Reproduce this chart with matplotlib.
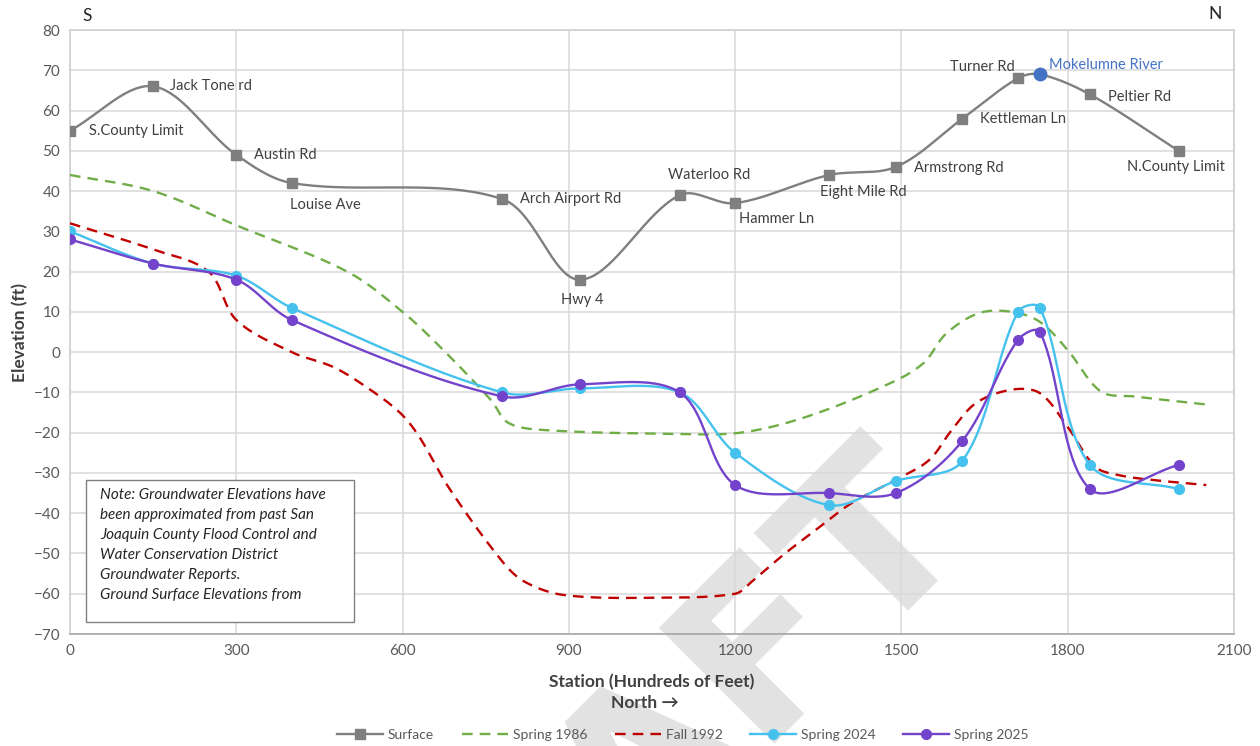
import matplotlib
matplotlib.use("Agg")
import matplotlib.pyplot as plt
import numpy as np
from matplotlib.lines import Line2D
from matplotlib.patches import Rectangle

plt.rcParams["font.family"] = ["Lato", "DejaVu Sans"]

# stations (hundreds of feet) shared by the surface and recent groundwater surveys
stations = [0, 150, 300, 400, 780, 920, 1100, 1200, 1370, 1490, 1610, 1710, 1750, 1840, 2000]
surface = [55, 66, 49, 42, 38, 18, 39, 37, 44, 46, 58, 68, 69, 64, 50]
surface_names = ["S.County Limit", "Jack Tone rd", "Austin Rd", "Louise Ave", "Arch Airport Rd",
                 "Hwy 4", "Waterloo Rd", "Hammer Ln", "Eight Mile Rd", "Armstrong Rd",
                 "Kettleman Ln", "Turner Rd", "Mokelumne River", "Peltier Rd", "N.County Limit"]
spring_2024 = [30, 22, 19, 11, -10, -9, -10, -25, -38, -32, -27, 10, 11, -28, -34]
spring_2025 = [28, 22, 18, 8, -11, -8, -10, -33, -35, -35, -22, 3, 5, -34, -28]

# historic contours (no markers)
spring_1986_x = [0, 150, 300, 500, 600, 670, 760, 790, 850, 1090, 1210, 1330, 1480, 1540,
                 1580, 1640, 1700, 1750, 1800, 1860, 1920, 2050]
spring_1986_y = [44, 40, 31.5, 20, 10, 1, -12, -17.5, -19.3, -20.3, -20, -16, -7.7, -2.7,
                 4.5, 9.7, 10, 7.5, 0.5, -9.8, -11, -13]
fall_1992_x = [0, 150, 250, 300, 400, 475, 535, 595, 630, 685, 780, 820, 890, 1050, 1200,
               1230, 1290, 1350, 1410, 1490, 1550, 1590, 1635, 1700, 1750, 1800, 1850,
               1890, 1950, 2050]
fall_1992_y = [32, 25.5, 20, 8, 0, -3.7, -8.7, -15, -21, -34, -52, -57, -60.3, -61, -60,
               -57, -50, -43.7, -37.5, -31.7, -26.8, -19.5, -12.6, -9.3, -10.2, -18.6, -28.5,
               -30.5, -31.7, -33]

NOTE = ("Note: Groundwater Elevations have\n"
        "been approximated from past San\n"
        "Joaquin County Flood Control and\n"
        "Water Conservation District\n"
        "Groundwater Reports.\n"
        "Ground Surface Elevations from")

# label placement: (dx, dy) in points, horizontal alignment
LABEL_POS = {
    "S.County Limit": (13.5, 0, "left"),
    "Jack Tone rd": (12, 0, "left"),
    "Austin Rd": (13, 0, "left"),
    "Louise Ave": (-1.5, -15.8, "left"),
    "Arch Airport Rd": (13, 0, "left"),
    "Hwy 4": (1.5, -14.4, "center"),
    "Waterloo Rd": (21, 14.4, "center"),
    "Hammer Ln": (3, -11.5, "left"),
    "Eight Mile Rd": (-6.5, -12.2, "left"),
    "Armstrong Rd": (13, -0.5, "left"),
    "Kettleman Ln": (13, 0, "left"),
    "Turner Rd": (-2, 8, "right"),
    "Mokelumne River": (6.5, 6.5, "left"),
    "Peltier Rd": (13, -1.5, "left"),
    "N.County Limit": (-2, -11.5, "center"),
}

GRAY = "#7F7F7F"
GREEN = "#70AD47"
RED = "#C00000"
CYAN = "#45C1EE"
PURPLE = "#7443CC"
RIVER = "#4472C4"
TEXT = "#404040"
TICK = "#595959"

# rough screen scale (px per data unit) so the smoothing behaves like a spreadsheet curve
SX, SY = 1164 / 2100, 604 / 150


def smooth(xs, ys, n=40, tension=1 / 3):
    """Bezier curve through every point, tangents weighted by neighbouring segment lengths."""
    pts = np.column_stack([np.asarray(xs, float) * SX, np.asarray(ys, float) * SY])
    out = []
    t = np.linspace(0, 1, n)[:, None]
    for i in range(len(pts) - 1):
        p0 = pts[i - 1] if i > 0 else pts[i]
        p1, p2 = pts[i], pts[i + 1]
        p3 = pts[i + 2] if i + 2 < len(pts) else pts[i + 1]
        d01 = np.hypot(*(p1 - p0))
        d12 = np.hypot(*(p2 - p1))
        d23 = np.hypot(*(p3 - p2))
        c1 = p1 + tension * d12 / max(d01 + d12, 1e-9) * (p2 - p0)
        c2 = p2 - tension * d12 / max(d12 + d23, 1e-9) * (p3 - p1)
        seg = (1 - t) ** 3 * p1 + 3 * (1 - t) ** 2 * t * c1 + 3 * (1 - t) * t ** 2 * c2 + t ** 3 * p2
        out.append(seg if i == 0 else seg[1:])
    curve = np.vstack(out)
    return curve[:, 0] / SX, curve[:, 1] / SY


fig = plt.figure(figsize=(12.6, 7.46), dpi=100)
ax = fig.add_axes([70 / 1260, 1 - 634 / 746, 1164 / 1260, 604 / 746])

ax.set_xlim(0, 2100)
ax.set_ylim(-70, 80)
ax.set_xticks(range(0, 2101, 300))
ax.set_yticks(range(-70, 81, 10))
ax.set_axisbelow(True)
ax.grid(True, color="#D9D9D9", linewidth=1.1)
ax.tick_params(length=0, labelsize=11, labelcolor=TICK, pad=7)
for name, spine in ax.spines.items():
    spine.set_color("#D0D0D0")
    spine.set_linewidth(1.2)
ax.spines["bottom"].set_color("#A6A6A6")

# watermark, kept under the axis so tick labels stay readable
ax.text(972 / 1260, 1 - 526 / 746, "DRAFT", transform=fig.transFigure, fontsize=162,
        fontweight="bold", family="DejaVu Sans", color="#E2E2E2", rotation=45,
        rotation_mode="anchor", ha="right", va="baseline", clip_on=False, zorder=0.3)

x, y = smooth(spring_1986_x, spring_1986_y)
ax.plot(x, y, color=GREEN, lw=1.7, dashes=(4.5, 3), zorder=3)
x, y = smooth(fall_1992_x, fall_1992_y)
ax.plot(x, y, color=RED, lw=1.7, dashes=(4.5, 3), zorder=3)

x, y = smooth(stations, spring_2024)
ax.plot(x, y, color=CYAN, lw=1.7, zorder=4)
ax.plot(stations, spring_2024, "o", color=CYAN, ms=7, zorder=4)
x, y = smooth(stations, spring_2025)
ax.plot(x, y, color=PURPLE, lw=1.7, zorder=4)
ax.plot(stations, spring_2025, "o", color=PURPLE, ms=7, zorder=4)

x, y = smooth(stations, surface)
ax.plot(x, y, color=GRAY, lw=1.7, zorder=4)
river = surface_names.index("Mokelumne River")
sq_x = [s for i, s in enumerate(stations) if i != river]
sq_y = [v for i, v in enumerate(surface) if i != river]
ax.plot(sq_x, sq_y, "s", color=GRAY, ms=6.5, zorder=5)
ax.plot(stations[river], surface[river], "o", color=RIVER, ms=9, zorder=5)

for st, elev, name in zip(stations, surface, surface_names):
    dx, dy, ha = LABEL_POS[name]
    ax.annotate(name, (st, elev), xytext=(dx, dy), textcoords="offset points",
                ha=ha, va="center", fontsize=10.5,
                color=RIVER if name == "Mokelumne River" else TEXT, zorder=6)

# note box
ax.add_patch(Rectangle((16 / 1164, 12 / 604), 268 / 1164, 142 / 604, transform=ax.transAxes,
                       facecolor="white", edgecolor="#808080", lw=1.0, zorder=7))
ax.text(30 / 1164, 1 - 458 / 604, NOTE, transform=ax.transAxes, ha="left", va="top",
        fontsize=11, style="italic", color="#262626", linespacing=1.55, zorder=8)

fig.text(652 / 1260, 1 - 682 / 746, "Station (Hundreds of Feet)", ha="center", va="center",
         fontsize=12.5, fontweight="bold", color=TEXT)
fig.text(645 / 1260, 1 - 703 / 746, "North \u2192", ha="center", va="center",
         fontsize=12.5, fontweight="bold", color=TEXT)
fig.text(20 / 1260, 1 - 332 / 746, "Elevation (ft)", ha="center", va="center", rotation=90,
         fontsize=12.5, fontweight="bold", color=TEXT)
fig.text(87 / 1260, 1 - 16 / 746, "S", ha="center", va="center", fontsize=12.5, color="#262626")
fig.text(1215 / 1260, 1 - 14 / 746, "N", ha="center", va="center", fontsize=12.5, color="#262626")

handles = [
    Line2D([], [], color=GRAY, lw=1.7, marker="s", ms=6.5),
    Line2D([], [], color=GREEN, lw=1.7, dashes=(4.5, 3)),
    Line2D([], [], color=RED, lw=1.7, dashes=(4.5, 3)),
    Line2D([], [], color=CYAN, lw=1.7, marker="o", ms=7),
    Line2D([], [], color=PURPLE, lw=1.7, marker="o", ms=7),
]
labels = ["Surface", "Spring 1986", "Fall 1992", "Spring 2024", "Spring 2025"]
leg = fig.legend(handles, labels, loc="center", bbox_to_anchor=(683 / 1260, 11 / 746), ncol=5,
                 frameon=False, fontsize=10, handlelength=3.3, handletextpad=0.35,
                 columnspacing=2.0, labelcolor=TICK)

fig.savefig("out.png", dpi=100)
